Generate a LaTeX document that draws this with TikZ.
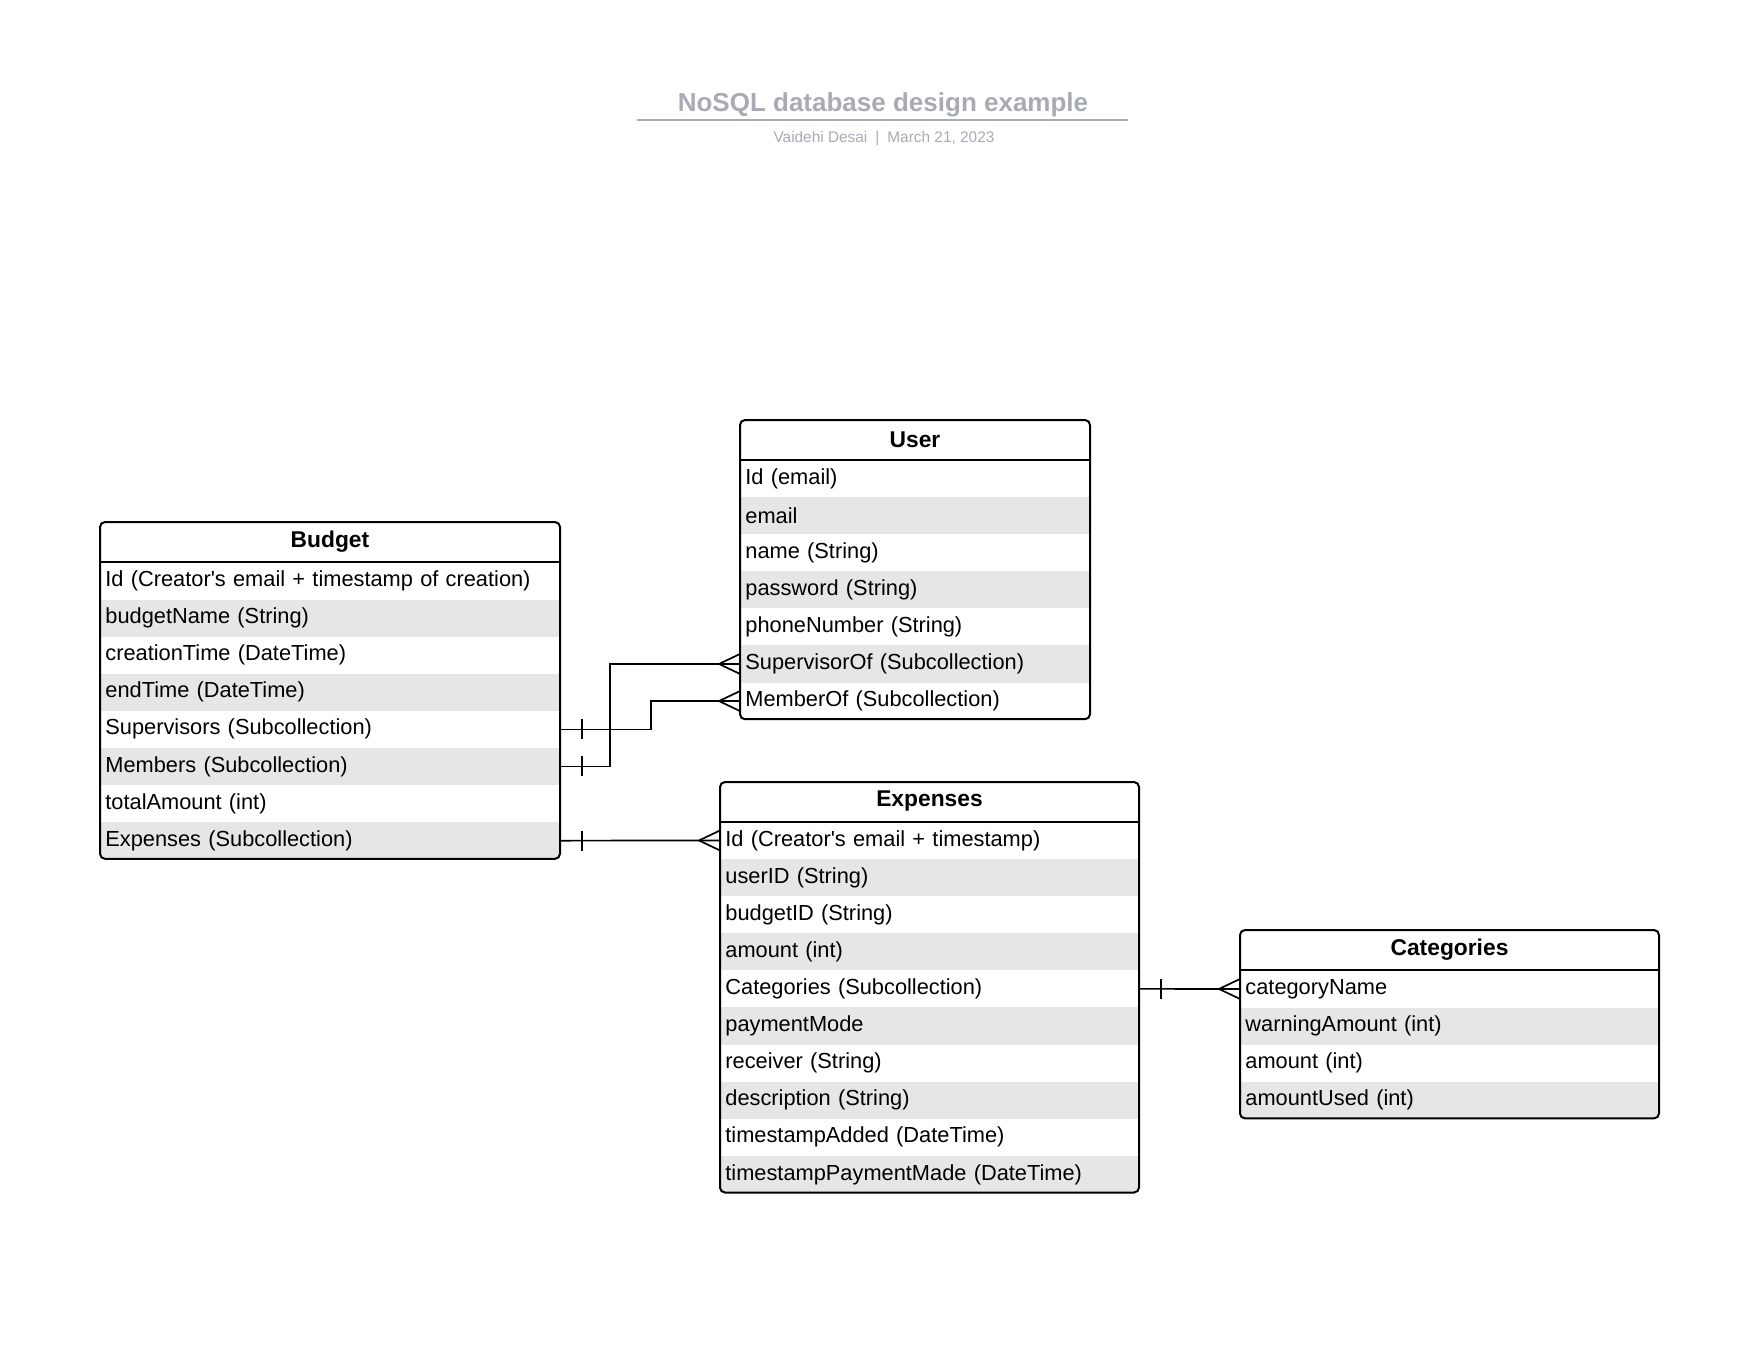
\documentclass[tikz,border=0pt]{standalone}
\usepackage{fontspec}
\setmainfont{Liberation Sans}
\definecolor{titlegray}{RGB}{166,171,180}
\definecolor{rowgray}{RGB}{230,230,230}
\tikzset{
  attr/.style={anchor=north west, minimum height=18.55pt, inner xsep=2.5pt, inner ysep=0pt, align=left},
  entity/.style={line width=1pt, rounded corners=2.5pt},
  head/.style={font=\bfseries\fontsize{11.4}{14}\selectfont},
  conn/.style={line width=0.85pt},
  crowfoot/.pic={\draw[conn] (0,0) -- (21,-10) (0,0) -- (21,10);},
  onebar/.pic={\draw[conn] (0,-10) -- (0,10);}
}
\begin{document}
\begin{tikzpicture}[x=0.5pt, y=-0.5pt, font=\fontsize{10.9}{13}\selectfont]
    \useasboundingbox (0,0) rectangle (1760,1360);

    % title
    \node[font=\bfseries\fontsize{13}{15}\selectfont, text=titlegray] (title) at (883,105) {NoSQL database design example};
    \draw[titlegray, line width=1pt] (637,120) -- (1128,120);
    \node[font=\fontsize{7.7}{9}\selectfont, text=titlegray] (byline) at (884,138.5) {Vaidehi Desai\hspace{4pt}|\hspace{4pt}March 21, 2023};

    % User
    \begin{scope}
    \clip[rounded corners=2.5pt] (740,420) rectangle (1090,719.2);
    \foreach \txt [count=\i, evaluate=\i as \shade using {int(100*(1-mod(\i,2)))}] in {Id (email), email, name (String), password (String), phoneNumber (String), SupervisorOf (Subcollection), MemberOf (Subcollection)}
        \node[attr, text width=170pt, fill=rowgray!\shade] (user-\i) at (740,{459.5+(\i-1)*37.1}) {\txt};
    \end{scope}
    \draw[entity] (740,420) rectangle (1090,719.2);
    \draw[line width=1pt] (740,459.5) -- (1090,459.5);
    \node[head] (user) at (915,439.5) {User};

    % Budget
    \begin{scope}
    \clip[rounded corners=2.5pt] (100,522) rectangle (560,858.8);
    \foreach \txt [count=\i, evaluate=\i as \shade using {int(100*(1-mod(\i,2)))}] in {Id (Creator\textquotesingle s email + timestamp of creation), budgetName (String), creationTime (DateTime), endTime (DateTime), Supervisors (Subcollection), Members (Subcollection), totalAmount (int), Expenses (Subcollection)}
        \node[attr, text width=225pt, fill=rowgray!\shade] (budget-\i) at (100,{562+(\i-1)*37.1}) {\txt};
    \end{scope}
    \draw[entity] (100,522) rectangle (560,858.8);
    \draw[line width=1pt] (100,562) -- (560,562);
    \node[head] (budget) at (330,541.5) {Budget};

    % Expenses
    \begin{scope}
    \clip[rounded corners=2.5pt] (720,782) rectangle (1139,1192.5);
    \foreach \txt [count=\i, evaluate=\i as \shade using {int(100*(1-mod(\i,2)))}] in {Id (Creator\textquotesingle s email + timestamp), userID (String), budgetID (String), amount (int), Categories (Subcollection), paymentMode, receiver (String), description (String), timestampAdded (DateTime), timestampPaymentMade (DateTime)}
        \node[attr, text width=204.5pt, fill=rowgray!\shade] (expenses-\i) at (720,{821.5+(\i-1)*37.1}) {\txt};
    \end{scope}
    \draw[entity] (720,782) rectangle (1139,1192.5);
    \draw[line width=1pt] (720,821.5) -- (1139,821.5);
    \node[head] (expenses) at (929.5,801.5) {Expenses};

    % Categories
    \begin{scope}
    \clip[rounded corners=2.5pt] (1240,930) rectangle (1659,1118.4);
    \foreach \txt [count=\i, evaluate=\i as \shade using {int(100*(1-mod(\i,2)))}] in {categoryName, warningAmount (int), amount (int), amountUsed (int)}
        \node[attr, text width=204.5pt, fill=rowgray!\shade] (categories-\i) at (1240,{970+(\i-1)*37.1}) {\txt};
    \end{scope}
    \draw[entity] (1240,930) rectangle (1659,1118.4);
    \draw[line width=1pt] (1240,970) -- (1659,970);
    \node[head] (categories) at (1449.5,949.5) {Categories};

    % relations
    \draw[conn] (budget-5.east) -- ++(90,0) |- (user-7.west);
    \draw[conn] (budget-6.east) -- ++(49,0) |- (user-6.west);
    \draw[conn] (budget-8.east) -- (expenses-1.west);
    \draw[conn] (expenses-5.east) -- (categories-1.west);
    \pic at ([xshift=10.5pt]budget-5.east) {onebar};
    \pic at ([xshift=10.5pt]budget-6.east) {onebar};
    \pic at ([xshift=10.5pt]budget-8.east) {onebar};
    \pic at ([xshift=10.5pt]expenses-5.east) {onebar};
    \pic at ([xshift=-10.5pt]user-6.west) {crowfoot};
    \pic at ([xshift=-10.5pt]user-7.west) {crowfoot};
    \pic at ([xshift=-10.5pt]expenses-1.west) {crowfoot};
    \pic at ([xshift=-10.5pt]categories-1.west) {crowfoot};
\end{tikzpicture}
\end{document}
